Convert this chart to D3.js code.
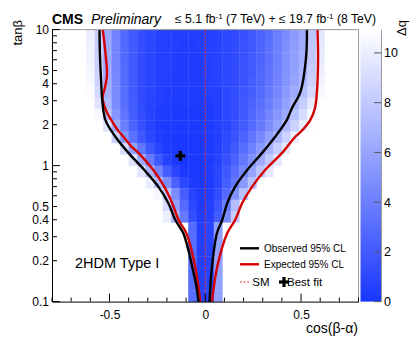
<!DOCTYPE html>
<html><head><meta charset="utf-8">
<script src="https://cdn.jsdelivr.net/npm/d3@7"></script>
<style>body{margin:0;background:#fff} svg{font-family:"Liberation Sans",Arial,Helvetica,sans-serif}</style>
</head><body><svg id="c" width="420" height="343"></svg>
<script>
// ---- data ----
const xEdges = [-0.8,-0.7556,-0.7111,-0.6667,-0.6222,-0.5778,-0.5333,-0.4889,-0.4444,-0.4,-0.3556,-0.3111,-0.2667,-0.2222,-0.1778,-0.1333,-0.0889,-0.0444,0,0.0444,0.0889,0.1333,0.1778,0.2222,0.2667,0.3111,0.3556,0.4,0.4444,0.4889,0.5333,0.5778,0.6222,0.6667,0.7111,0.7556,0.8];
const yEdges = [0.1,0.121,0.147,0.178,0.215,0.261,0.316,0.383,0.464,0.562,0.681,0.825,1,1.21,1.47,1.78,2.15,2.61,3.16,3.83,4.64,5.62,6.81,8.25,10];
// -2 Delta lnL per row (row index from bottom, first column index, values)
const heatRows = [
 {row:23,start:4,v:[10,8.3,6.2,4.2,2.8,1.9,1.3,0.9,0.7,0.6,0.5,0.5,0.5,0.5,0.6,0.7,0.9,1.1,1.4,1.9,2.4,3.1,3.9,4.7,5.5,6.4,7.8,9.6]},
 {row:22,start:4,v:[10.2,8.4,6.3,4.3,2.8,1.9,1.3,0.9,0.6,0.5,0.5,0.4,0.4,0.5,0.6,0.7,0.9,1.2,1.5,1.9,2.5,3.2,4.0,4.8,5.6,6.5,7.9,9.8]},
 {row:21,start:4,v:[10.3,8.4,6.3,4.3,2.8,1.9,1.2,0.8,0.6,0.5,0.4,0.4,0.4,0.4,0.5,0.7,0.9,1.2,1.5,2.0,2.5,3.2,4.0,4.9,5.7,6.6,8.0,9.9]},
 {row:20,start:4,v:[10.4,8.5,6.4,4.4,2.9,1.9,1.2,0.8,0.6,0.5,0.4,0.4,0.4,0.4,0.5,0.7,0.9,1.2,1.6,2.0,2.6,3.3,4.1,5.0,5.8,6.8,8.2,10.1]},
 {row:19,start:4,v:[10.5,8.6,6.5,4.5,2.9,1.9,1.2,0.8,0.6,0.5,0.4,0.4,0.4,0.4,0.5,0.7,0.9,1.2,1.6,2.1,2.7,3.4,4.2,5.1,6.0,7.0,8.4,10.3]},
 {row:18,start:4,v:[10.8,8.8,6.7,4.6,3.0,1.9,1.2,0.8,0.5,0.4,0.4,0.3,0.3,0.4,0.5,0.6,0.9,1.3,1.7,2.2,2.8,3.6,4.4,5.4,6.4,7.5,8.9,10.6]},
 {row:17,start:5,v:[9.5,7.1,4.7,3.1,2.0,1.2,0.7,0.5,0.4,0.3,0.3,0.3,0.3,0.4,0.6,0.9,1.3,1.8,2.4,3.1,3.9,4.8,5.8,6.9,8.2,9.8]},
 {row:16,start:5,v:[10.5,7.8,5.2,3.4,2.1,1.3,0.7,0.4,0.3,0.2,0.2,0.2,0.2,0.3,0.5,0.9,1.3,1.9,2.6,3.4,4.3,5.3,6.4,7.6,9.0,10.6]},
 {row:15,start:6,v:[9.5,6.3,4.0,2.4,1.4,0.7,0.3,0.2,0.2,0.2,0.2,0.2,0.3,0.5,0.8,1.4,2.0,2.8,3.7,4.7,5.8,7.1,8.5,9.9,10.9]},
 {row:14,start:7,v:[8.5,5.3,3.2,1.8,0.9,0.4,0.2,0.1,0.1,0.1,0.2,0.3,0.5,1.0,1.6,2.4,3.4,4.5,5.7,7.0,8.5,10.0,11.0]},
 {row:13,start:8,v:[9.0,5.8,3.5,1.8,0.8,0.3,0.1,0.1,0.1,0.2,0.3,0.6,1.2,2.0,3.0,4.1,5.4,6.8,8.3,9.8,11.0]},
 {row:12,start:9,v:[9.5,6.3,3.7,1.8,0.7,0.1,0.0,0.1,0.1,0.3,0.7,1.4,2.4,3.6,4.9,6.4,8.0,9.7,11.0]},
 {row:11,start:10,v:[9.5,6.8,4.2,2.1,0.8,0.2,0.1,0.2,0.4,0.9,1.8,3.0,4.4,6.0,7.8,9.8]},
 {row:10,start:11,v:[10.0,7.3,4.7,2.4,0.9,0.3,0.2,0.3,0.9,2.1,3.6,5.4,7.6]},
 {row:9,start:12,v:[10.5,7.8,4.7,2.2,0.7,0.3,0.4,1.2,2.8,5.0,7.6]},
 {row:8,start:13,v:[9.0,5.8,2.9,1.0,0.3,0.5,1.6,3.9,7.3]},
 {row:7,start:13,v:[10.0,6.8,3.7,1.3,0.4,0.6,2.1,4.7,8.3]},
 {row:6,start:16,v:[2.9,0.5,0.7,5.7]},
 {row:5,start:16,v:[3.0,0.5,0.7,5.8]},
 {row:4,start:16,v:[3.0,0.5,0.7,5.8]},
 {row:3,start:16,v:[3.0,0.5,0.7,5.8]},
 {row:2,start:16,v:[3.0,0.5,0.7,5.8]},
 {row:1,start:16,v:[3.0,0.5,0.7,5.8]},
 {row:0,start:16,v:[3.0,0.5,0.7,5.8]}
];
const obsLeft = [[-0.552,10],[-0.550,6.73],[-0.542,3.78],[-0.538,3.04],[-0.521,2.16],[-0.469,1.63],[-0.401,1.24],[-0.318,0.928],[-0.245,0.70],[-0.193,0.531],[-0.156,0.398],[-0.115,0.319],[-0.088,0.239],[-0.068,0.180],[-0.047,0.132],[-0.035,0.1]];
const obsRight = [[0.531,10],[0.526,6.18],[0.497,3.49],[0.453,2.65],[0.4255,2.16],[0.365,1.63],[0.297,1.24],[0.219,0.928],[0.156,0.70],[0.115,0.531],[0.0885,0.398],[0.061,0.319],[0.035,0.180],[0.022,0.1]];
const expLeft = [[-0.535,10],[-0.521,6.73],[-0.513,4.64],[-0.523,3.78],[-0.536,3.14],[-0.512,2.44],[-0.490,2.16],[-0.458,1.83],[-0.427,1.63],[-0.385,1.38],[-0.349,1.24],[-0.271,0.928],[-0.214,0.70],[-0.173,0.531],[-0.139,0.398],[-0.099,0.319],[-0.052,0.180],[-0.026,0.1]];
const expRight = [[0.586,10],[0.589,6.18],[0.583,3.49],[0.573,2.65],[0.548,2.16],[0.5,1.78],[0.47,1.63],[0.401,1.24],[0.3125,0.928],[0.245,0.70],[0.193,0.531],[0.156,0.398],[0.115,0.319],[0.0625,0.180],[0.035,0.1]];
const bestFit = [-0.13, 1.18];
const smValue = 0;
const yTickLabels = [10,5,4,3,2,1,0.5,0.4,0.3,0.2,0.1];
const yAllTicks = [10,9,8,7,6,5,4,3,2,1,0.9,0.8,0.7,0.6,0.5,0.4,0.3,0.2,0.1];
const xTickLabels = [-0.5,0,0.5];
const xMinorTicks = [-0.8,-0.7,-0.6,-0.4,-0.3,-0.2,-0.1,0.1,0.2,0.3,0.4,0.6,0.7,0.8];
const zTicks = [0,2,4,6,8,10];
const zMax = 10.95;

// ---- drawing ----
const svg = d3.select("#c");
const x = d3.scaleLinear().domain([-0.8,0.8]).range([52,358.5]);
const y = d3.scaleLog().domain([0.1,10]).range([301.6,29.6]);
const z = d3.scaleLinear().domain([0,zMax]).range([301.6,29.3]);
const interp = d3.interpolateRgb("rgb(24,54,255)","rgb(255,255,255)");
const col = v => interp(Math.min(1, v/zMax));

// heat cells
const cells = [];
heatRows.forEach(r => r.v.forEach((val,k) => cells.push({row:r.row, c:r.start+k, val})));
svg.append("g").selectAll("rect").data(cells).join("rect")
  .attr("x", d => x(xEdges[d.c]))
  .attr("width", d => x(xEdges[d.c+1]) - x(xEdges[d.c]) + 0.35)
  .attr("y", d => y(yEdges[d.row+1]))
  .attr("height", d => y(yEdges[d.row]) - y(yEdges[d.row+1]) + 0.35)
  .attr("fill", d => col(d.val));

// SM line
svg.append("line").attr("x1", x(smValue)).attr("x2", x(smValue))
  .attr("y1", y(10)).attr("y2", y(0.1))
  .attr("stroke", "#e02020").attr("stroke-width", 1.2).attr("stroke-dasharray", "1.8,1.8");

// contours
const line = d3.line().x(d => x(d[0])).y(d => y(d[1])).curve(d3.curveCatmullRom.alpha(0.5));
[[expLeft,"#d40000"],[expRight,"#d40000"],[obsLeft,"#000"],[obsRight,"#000"]].forEach(([pts,c]) => {
  svg.append("path").attr("d", line(pts)).attr("fill","none").attr("stroke",c).attr("stroke-width",2.4);
});

// cross
function cross(cx, cy, s, t) {
  svg.append("rect").attr("x", cx - s/2).attr("y", cy - t/2).attr("width", s).attr("height", t).attr("fill","#000");
  svg.append("rect").attr("x", cx - t/2).attr("y", cy - s/2).attr("width", t).attr("height", s).attr("fill","#000");
}
cross(x(bestFit[0]), y(bestFit[1]), 10, 3.2);

// frame
svg.append("line").attr("x1",52).attr("x2",358.5).attr("y1",29.6).attr("y2",29.6).attr("stroke","#9a9a9a").attr("stroke-width",1);
svg.append("line").attr("x1",358.5).attr("x2",358.5).attr("y1",29.6).attr("y2",301.6).attr("stroke","#9a9a9a").attr("stroke-width",1);

// y axis
const ya = svg.append("g").attr("transform","translate(52,0)");
ya.call(d3.axisLeft(y).tickValues(yTickLabels).tickSize(0).tickPadding(3).tickFormat(d => String(d)));
ya.select(".domain").attr("stroke","#000");
ya.selectAll("text").attr("font-size",12).attr("font-family","Liberation Sans, Arial, sans-serif").attr("fill","#000");
ya.selectAll(".tickmark").data(yAllTicks).join("line").attr("class","tickmark")
  .attr("x1",0).attr("x2", d => [10,1,0.1].includes(d) ? 8 : 5)
  .attr("y1", d => y(d)).attr("y2", d => y(d)).attr("stroke","#000");

// x axis
const xa = svg.append("g").attr("transform","translate(0,301.6)");
xa.call(d3.axisBottom(x).tickValues(xTickLabels).tickSize(0).tickPadding(9).tickFormat(d => d3.format("")(d).replace("−","-")));
xa.select(".domain").attr("stroke","#000");
xa.selectAll("text").attr("font-size",12).attr("font-family","Liberation Sans, Arial, sans-serif").attr("fill","#000");
xa.selectAll(".maj").data(xTickLabels).join("line").attr("class","maj")
  .attr("x1", d => x(d)).attr("x2", d => x(d)).attr("y1",0).attr("y2",-8).attr("stroke","#000");
xa.selectAll(".min").data(xMinorTicks).join("line").attr("class","min")
  .attr("x1", d => x(d)).attr("x2", d => x(d)).attr("y1",0).attr("y2",-4).attr("stroke","#000");

// colour bar
const defs = svg.append("defs");
const grad = defs.append("linearGradient").attr("id","zg").attr("x1",0).attr("x2",0).attr("y1",1).attr("y2",0);
d3.range(0,1.0001,0.1).forEach(t => grad.append("stop").attr("offset",t).attr("stop-color", interp(t)));
svg.append("rect").attr("x",360.5).attr("y",z(zMax)).attr("width",20.5).attr("height",z(0)-z(zMax)).attr("fill","url(#zg)");
const za = svg.append("g").attr("transform","translate(381,0)");
za.call(d3.axisRight(z).tickValues(zTicks).tickSize(0).tickPadding(3));
za.select(".domain").attr("stroke","#9a9a9a");
za.selectAll("text").attr("font-size",12.5).attr("font-family","Liberation Sans, Arial, sans-serif").attr("fill","#000");
za.selectAll(".zt").data(zTicks).join("line").attr("class","zt")
  .attr("x1",0).attr("x2",-7).attr("y1", d => z(d)).attr("y2", d => z(d)).attr("stroke","#555");

// texts
svg.append("text").attr("x",52).attr("y",24).attr("font-size",14).attr("font-weight","bold").text("CMS");
svg.append("text").attr("x",91).attr("y",24).attr("font-size",14).attr("font-style","italic").text("Preliminary");
const lt = svg.append("text").attr("x",175).attr("y",23).attr("font-size",12.2);
lt.append("tspan").text("≤ 5.1 fb");
lt.append("tspan").attr("dy",-4.5).attr("font-size",8).text("-1");
lt.append("tspan").attr("dy",4.5).text(" (7 TeV) + ≤ 19.7 fb");
lt.append("tspan").attr("dy",-4.5).attr("font-size",8).text("-1");
lt.append("tspan").attr("dy",4.5).text(" (8 TeV)");

svg.append("text").attr("transform","translate(22,20) rotate(-90)").attr("text-anchor","end").attr("font-size",13).text("tanβ");
svg.append("text").attr("x",358).attr("y",333).attr("text-anchor","end").attr("font-size",14).text("cos(β-α)");
svg.append("text").attr("transform","translate(406,20) rotate(-90)").attr("text-anchor","end").attr("font-size",13).text("Δq");
svg.append("text").attr("x",75).attr("y",268).attr("font-size",14.5).text("2HDM Type I");

// legend
const lg = svg.append("g");
lg.append("line").attr("x1",240).attr("x2",259).attr("y1",248.3).attr("y2",248.3).attr("stroke","#000").attr("stroke-width",2.4);
lg.append("text").attr("x",264).attr("y",251.8).attr("font-size",10).text("Observed 95% CL");
lg.append("line").attr("x1",240).attr("x2",259).attr("y1",264.3).attr("y2",264.3).attr("stroke","#d40000").attr("stroke-width",2.4);
lg.append("text").attr("x",264).attr("y",267.8).attr("font-size",10).text("Expected 95% CL");
lg.append("line").attr("x1",240).attr("x2",251).attr("y1",282).attr("y2",282).attr("stroke","#e02020").attr("stroke-width",1.2).attr("stroke-dasharray","1.8,1.8");
lg.append("text").attr("x",252.3).attr("y",286.2).attr("font-size",11.5).text("SM");
cross(284, 282, 10, 3.2);
lg.append("text").attr("x",287).attr("y",286.2).attr("font-size",11.5).text("Best fit");
</script></body></html>
